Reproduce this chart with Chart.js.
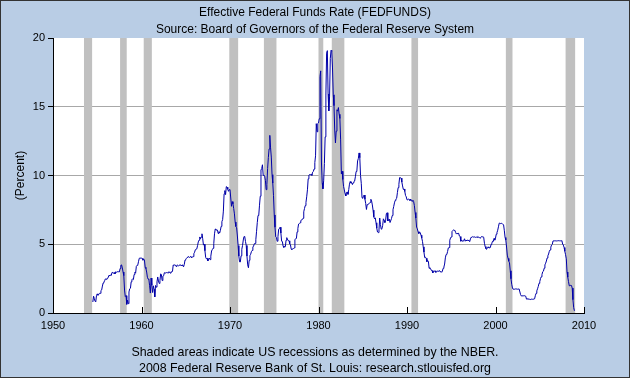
<!DOCTYPE html>
<html>
<head>
<title>Effective Federal Funds Rate</title>
<style>
  body { margin: 0; background: #fff; }
  canvas { display: block; }
</style>
</head>
<body>
<canvas id="fedChart" width="630" height="378"></canvas>
<script src="https://cdn.jsdelivr.net/npm/chart.js@4.4.0/dist/chart.umd.min.js"></script>
<script>
// monthly effective fed funds rate, starting July 1954
const startYear = 1954;
const startMonth = 7;
const fedFunds = [
  0.80, 1.22, 1.06, 0.85, 0.83, 1.28,                               // 1954 (Jul-Dec)
  1.39, 1.29, 1.35, 1.43, 1.43, 1.64, 1.68, 1.96, 2.18, 2.24, 2.35, 2.48, // 1955
  2.45, 2.50, 2.50, 2.62, 2.75, 2.71, 2.75, 2.73, 2.95, 2.96, 2.88, 2.94, // 1956
  2.84, 3.00, 2.96, 3.00, 3.00, 3.00, 2.99, 3.24, 3.47, 3.50, 3.28, 2.98, // 1957
  2.72, 1.67, 1.20, 1.26, 0.63, 0.93, 0.68, 1.53, 1.76, 1.80, 2.27, 2.42, // 1958
  2.48, 2.43, 2.80, 2.96, 2.90, 3.39, 3.47, 3.50, 3.76, 3.98, 4.00, 3.99, // 1959
  3.99, 3.97, 3.84, 3.92, 3.85, 3.32, 3.23, 2.98, 2.60, 2.47, 2.44, 1.98, // 1960
  1.45, 2.54, 2.02, 1.49, 1.98, 1.73, 1.17, 2.00, 1.88, 2.26, 2.62, 2.33, // 1961
  2.15, 2.37, 2.85, 2.78, 2.36, 2.68, 2.71, 2.93, 2.90, 2.90, 2.94, 2.93, // 1962
  2.92, 3.00, 2.98, 2.90, 3.00, 2.99, 3.02, 3.49, 3.48, 3.50, 3.48, 3.38, // 1963
  3.48, 3.48, 3.43, 3.47, 3.50, 3.50, 3.42, 3.50, 3.45, 3.36, 3.52, 3.85, // 1964
  3.90, 3.98, 4.04, 4.09, 4.10, 4.04, 4.09, 4.12, 4.01, 4.08, 4.10, 4.32, // 1965
  4.42, 4.60, 4.65, 4.67, 4.90, 5.17, 5.30, 5.53, 5.40, 5.53, 5.76, 5.40, // 1966
  4.94, 5.00, 4.53, 4.05, 3.94, 3.98, 3.79, 3.90, 3.99, 3.88, 4.13, 4.51, // 1967
  4.61, 4.71, 5.05, 5.76, 6.11, 6.07, 6.02, 6.03, 5.78, 5.91, 5.82, 6.02, // 1968
  6.30, 6.64, 6.79, 7.41, 8.67, 8.90, 8.61, 9.19, 9.15, 9.00, 8.85, 8.97, // 1969
  8.98, 8.98, 7.76, 8.10, 7.94, 7.60, 7.21, 6.61, 6.29, 6.20, 5.60, 4.90, // 1970
  4.14, 3.72, 3.71, 4.16, 4.63, 4.91, 5.31, 5.56, 5.55, 5.20, 4.91, 4.14, // 1971
  3.50, 3.29, 3.83, 4.17, 4.27, 4.46, 4.55, 4.80, 4.87, 5.04, 5.06, 5.33, // 1972
  5.94, 6.58, 7.09, 7.12, 7.84, 8.49, 10.40, 10.50, 10.78, 10.01, 10.03, 9.95, // 1973
  9.65, 8.97, 9.35, 10.51, 11.31, 11.93, 12.92, 12.01, 11.34, 10.06, 9.45, 8.53, // 1974
  7.13, 6.24, 5.54, 5.49, 5.22, 5.55, 6.10, 6.14, 6.24, 5.82, 5.22, 5.20, // 1975
  4.87, 4.77, 4.84, 4.82, 5.29, 5.48, 5.31, 5.29, 5.25, 5.03, 4.95, 4.65, // 1976
  4.61, 4.68, 4.69, 4.73, 5.35, 5.39, 5.42, 5.90, 6.14, 6.47, 6.51, 6.56, // 1977
  6.70, 6.78, 6.79, 6.89, 7.36, 7.60, 7.81, 8.04, 8.45, 8.96, 9.76, 10.03, // 1978
  10.07, 10.06, 10.09, 10.01, 10.24, 10.29, 10.47, 10.94, 11.43, 13.77, 13.18, 13.78, // 1979
  13.82, 14.13, 17.19, 17.61, 10.98, 9.47, 9.03, 9.61, 10.87, 12.81, 15.85, 18.90, // 1980
  19.08, 15.93, 14.70, 15.72, 18.52, 19.10, 19.04, 17.82, 15.87, 15.08, 13.31, 12.37, // 1981
  13.22, 14.78, 14.68, 14.94, 14.45, 14.15, 12.59, 10.12, 10.31, 9.71, 9.20, 8.95, // 1982
  8.68, 8.51, 8.77, 8.80, 8.63, 8.98, 9.37, 9.56, 9.45, 9.48, 9.34, 9.47, // 1983
  9.56, 9.59, 9.91, 10.29, 10.32, 11.06, 11.23, 11.64, 11.30, 9.99, 9.43, 8.38, // 1984
  8.35, 8.50, 8.58, 8.27, 7.97, 7.53, 7.88, 7.90, 7.92, 7.99, 8.05, 8.27, // 1985
  8.14, 7.86, 7.48, 6.99, 6.85, 6.92, 6.56, 6.17, 5.89, 5.85, 6.04, 6.91, // 1986
  6.43, 6.10, 6.13, 6.37, 6.85, 6.73, 6.58, 6.73, 7.22, 7.29, 6.69, 6.77, // 1987
  6.83, 6.58, 6.58, 6.87, 7.09, 7.51, 7.75, 8.01, 8.19, 8.30, 8.35, 8.76, // 1988
  9.12, 9.36, 9.85, 9.84, 9.81, 9.53, 9.24, 8.99, 9.02, 8.84, 8.55, 8.45, // 1989
  8.23, 8.24, 8.28, 8.26, 8.18, 8.29, 8.15, 8.13, 8.20, 8.11, 7.81, 7.31, // 1990
  6.91, 6.25, 6.12, 5.91, 5.78, 5.90, 5.82, 5.66, 5.45, 5.21, 4.81, 4.43, // 1991
  4.03, 4.06, 3.98, 3.73, 3.82, 3.76, 3.25, 3.30, 3.22, 3.10, 3.09, 2.92, // 1992
  3.02, 3.03, 3.07, 2.96, 3.00, 3.04, 3.06, 3.03, 3.09, 2.99, 3.02, 2.96, // 1993
  3.05, 3.25, 3.34, 3.56, 4.01, 4.25, 4.26, 4.47, 4.73, 4.76, 5.29, 5.45, // 1994
  5.53, 5.92, 5.98, 6.05, 6.01, 6.00, 5.85, 5.74, 5.80, 5.76, 5.80, 5.60, // 1995
  5.56, 5.22, 5.31, 5.22, 5.24, 5.27, 5.40, 5.22, 5.30, 5.24, 5.31, 5.29, // 1996
  5.25, 5.19, 5.39, 5.51, 5.50, 5.56, 5.52, 5.54, 5.54, 5.50, 5.52, 5.50, // 1997
  5.56, 5.51, 5.49, 5.45, 5.49, 5.56, 5.54, 5.55, 5.51, 5.07, 4.83, 4.68, // 1998
  4.63, 4.76, 4.81, 4.74, 4.74, 4.76, 4.99, 5.07, 5.22, 5.20, 5.42, 5.30, // 1999
  5.45, 5.73, 5.85, 6.02, 6.27, 6.53, 6.54, 6.50, 6.52, 6.51, 6.51, 6.40, // 2000
  5.98, 5.49, 5.31, 4.80, 4.21, 3.97, 3.77, 3.65, 3.07, 2.49, 2.09, 1.82, // 2001
  1.73, 1.74, 1.73, 1.75, 1.75, 1.75, 1.73, 1.74, 1.75, 1.75, 1.34, 1.24, // 2002
  1.24, 1.26, 1.25, 1.26, 1.26, 1.22, 1.01, 1.03, 1.01, 1.01, 1.00, 0.98, // 2003
  1.00, 1.01, 1.00, 1.00, 1.00, 1.03, 1.26, 1.43, 1.61, 1.76, 1.93, 2.16, // 2004
  2.28, 2.50, 2.63, 2.79, 3.00, 3.04, 3.26, 3.50, 3.62, 3.78, 4.00, 4.16, // 2005
  4.29, 4.49, 4.59, 4.79, 4.94, 4.99, 5.24, 5.25, 5.25, 5.25, 5.25, 5.24, // 2006
  5.25, 5.26, 5.26, 5.25, 5.25, 5.25, 5.26, 5.02, 4.94, 4.76, 4.49, 4.24, // 2007
  3.94, 2.98, 2.61, 2.28, 1.98, 2.00, 2.01, 2.00, 1.81, 0.97, 0.39, 0.16  // 2008
];

// NBER recessions, decimal years
const recessionStart = [1953.5, 1957.58, 1960.25, 1969.92, 1973.83, 1980.0, 1981.5, 1990.5, 2001.17, 2007.92];
const recessionEnd   = [1954.42, 1958.33, 1961.17, 1970.92, 1975.25, 1980.54, 1982.92, 1991.25, 2001.92, 2009.0];

const xTicks = [1950, 1960, 1970, 1980, 1990, 2000, 2010];
const yTicks = [0, 5, 10, 15, 20];

const titleLines = ['Effective Federal Funds Rate (FEDFUNDS)', 'Source: Board of Governors of the Federal Reserve System'];
const footerLines = ['Shaded areas indicate US recessions as determined by the NBER.', '2008 Federal Reserve Bank of St. Louis: research.stlouisfed.org'];

const points = fedFunds.map((v, i) => ({ x: startYear + (startMonth - 1 + i) / 12, y: v }));

const FONT = '"Liberation Sans", Arial, sans-serif';

// background, recession shading, inward x ticks, frame
const decor = {
    id: 'decor',
    beforeDraw(chart) {
        const { ctx, chartArea: a, width, height } = chart;
        ctx.save();
        ctx.fillStyle = '#b9cde5';
        ctx.fillRect(0, 0, width, height);
        ctx.fillStyle = '#ffffff';
        ctx.fillRect(a.left, a.top, a.right - a.left, a.bottom - a.top);
        ctx.restore();
    },
    beforeDatasetsDraw(chart) {
        const { ctx, chartArea: a } = chart;
        const xs = chart.scales.x;
        ctx.save();
        ctx.fillStyle = '#c0c0c0';
        recessionStart.forEach((s, i) => {
            const x0 = xs.getPixelForValue(s);
            const x1 = xs.getPixelForValue(recessionEnd[i]);
            ctx.fillRect(x0, a.top, x1 - x0, a.bottom - a.top);
        });
        ctx.restore();
    },
    afterDraw(chart) {
        const { ctx, chartArea: a, width, height } = chart;
        const xs = chart.scales.x;
        ctx.save();
        ctx.strokeStyle = '#000';
        ctx.lineWidth = 1;
        ctx.beginPath();
        xTicks.forEach(v => {
            const px = Math.round(xs.getPixelForValue(v)) + 0.5;
            ctx.moveTo(px, a.bottom);
            ctx.lineTo(px, a.bottom - 6);
        });
        ctx.stroke();
        ctx.strokeStyle = '#333';
        ctx.strokeRect(0.5, 0.5, width - 1, height - 1);
        ctx.restore();
    }
};

new Chart(document.getElementById('fedChart'), {
    type: 'line',
    data: {
        datasets: [{
            data: points,
            borderColor: '#0000a8',
            borderWidth: 1,
            pointRadius: 0,
            tension: 0,
            fill: false
        }]
    },
    options: {
        responsive: false,
        animation: false,
        layout: { padding: { top: 1, left: 0, right: 0, bottom: 0 } },
        plugins: {
            legend: { display: false },
            tooltip: { enabled: false },
            title: {
                display: true,
                text: titleLines,
                color: '#000',
                font: { family: FONT, size: 12, weight: 'normal', lineHeight: 17 / 12 },
                padding: { top: 3, bottom: 0 }
            },
            subtitle: {
                display: true,
                position: 'bottom',
                text: footerLines,
                color: '#000',
                font: { family: FONT, size: 12.4, weight: 'normal', lineHeight: 16 / 12.4 },
                padding: { top: 10, bottom: 1 }
            }
        },
        scales: {
            x: {
                type: 'linear',
                min: 1950,
                max: 2010,
                afterBuildTicks: s => { s.ticks = xTicks.map(v => ({ value: v })); },
                afterFit: s => { s.height = 22; },
                ticks: {
                    color: '#000',
                    font: { family: FONT, size: 11 },
                    padding: 6,
                    maxRotation: 0,
                    autoSkip: false,
                    callback: v => String(v)
                },
                grid: { display: false, drawTicks: false, tickLength: 0 },
                border: { display: true, color: '#000', width: 1 }
            },
            y: {
                min: 0,
                max: 20,
                afterBuildTicks: s => { s.ticks = yTicks.map(v => ({ value: v })); },
                afterFit: s => { s.width = 53; },
                ticks: {
                    color: '#000',
                    font: { family: FONT, size: 11 },
                    padding: 3,
                    callback: v => String(v)
                },
                grid: {
                    color: c => (c.tick && c.tick.value > 0 && c.tick.value < 20) ? '#a8a8a8' : 'rgba(0,0,0,0)',
                    tickColor: '#000',
                    tickLength: 5
                },
                border: { display: true, color: '#000', width: 1 },
                title: {
                    display: true,
                    text: '(Percent)',
                    color: '#000',
                    font: { family: FONT, size: 12 },
                    padding: { top: 13, bottom: 0 }
                }
            },
            // empty right-hand axis that reserves the margin right of the plot
            yRight: {
                position: 'right',
                display: true,
                afterFit: s => { s.width = 46; },
                ticks: { display: false },
                grid: { display: false, drawTicks: false },
                border: { display: false }
            }
        }
    },
    plugins: [decor]
});
</script>
</body>
</html>
